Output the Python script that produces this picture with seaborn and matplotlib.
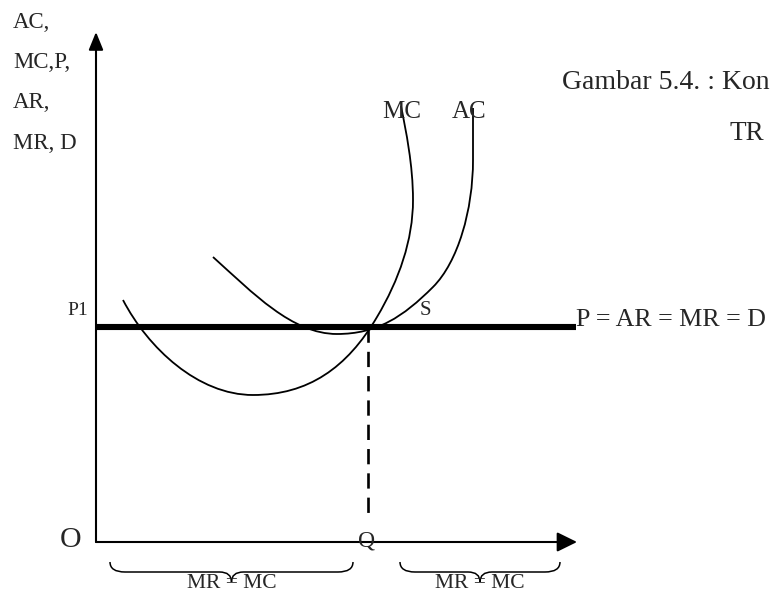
import numpy as np
import matplotlib
matplotlib.use("Agg")
import matplotlib.pyplot as plt
import seaborn as sns
import pandas as pd
from matplotlib.path import Path
from matplotlib.patches import PathPatch

# diagram units: origin O = (0, 0), quantity to the right, price upward
p1 = 215            # price level P1
q_star = 272        # output Q where MR = MC
price_end = 480     # right end of the P = AR = MR = D line
y_axis_top = 510
x_axis_end = 481
dash_bottom = 24

# MC curve (cubic bezier points: start, then ctrl, ctrl, end ...)
mc_x = [27, 52, 102, 157, 212, 251, 281, 303, 317, 317, 317, 310, 305]
mc_y = [242, 194, 147, 147, 147, 174, 225, 262, 302, 342, 377, 411, 436]

# AC curve (three cubic pieces then a straight top)
ac_x = [117, 157, 196, 241, 281, 307, 337, 362, 377, 377, 377]
ac_y = [285, 249, 208, 208, 208, 225, 255, 280, 332, 382, 434]

# braces under the quantity axis
brace_left = [14, 304]
brace_right = [257, 464]
brace_label = "MR = MC"

axis_labels = ["AC,", "MC,P,", "AR,", "MR, D"]
axis_label_y = [514, 474, 434, 393]

sns.set_theme(style="white")
plt.rcParams["font.family"] = ["Liberation Serif", "DejaVu Serif"]
plt.rcParams["lines.scale_dashes"] = False

fig = plt.figure(figsize=(7.74, 5.94), dpi=100)
ax = fig.add_axes([0, 0, 1, 1])
ax.set_xlim(-96, 678)
ax.set_ylim(-52, 542)
ax.axis("off")

# axes with arrow heads
ax.annotate("", xy=(0, y_axis_top), xytext=(0, 0),
            arrowprops=dict(arrowstyle="-|>,head_length=0.54,head_width=0.22",
                            mutation_scale=20, lw=1.5, color="black",
                            shrinkA=0, shrinkB=0))
ax.annotate("", xy=(x_axis_end, 0), xytext=(0, 0),
            arrowprops=dict(arrowstyle="-|>,head_length=0.61,head_width=0.3",
                            mutation_scale=20, lw=1.5, color="black",
                            shrinkA=0, shrinkB=0))

# price line and dashed drop to Q
price_df = pd.DataFrame({"q": [0, price_end], "p": [p1, p1]})
sns.lineplot(data=price_df, x="q", y="p", ax=ax, color="black",
             linewidth=4.4, estimator=None, sort=False, solid_capstyle="butt")
drop_df = pd.DataFrame({"q": [q_star, q_star], "p": [p1, dash_bottom]})
sns.lineplot(data=drop_df, x="q", y="p", ax=ax, color="black",
             linewidth=1.9, estimator=None, sort=False,
             linestyle=(0, (11, 6.5)))

# cost curves
mc_codes = [Path.MOVETO] + [Path.CURVE4] * (len(mc_x) - 1)
ax.add_patch(PathPatch(Path(np.column_stack([mc_x, mc_y]), mc_codes),
                       fill=False, lw=1.3, color="black"))
ac_codes = [Path.MOVETO] + [Path.CURVE4] * 9 + [Path.LINETO]
ax.add_patch(PathPatch(Path(np.column_stack([ac_x, ac_y]), ac_codes),
                       fill=False, lw=1.3, color="black"))

# braces
for x0, x1 in zip(brace_left, brace_right):
    xc = (x0 + x1) / 2
    verts = [(x0, -20), (x0, -30), (x0 + 15, -30), (xc - 12, -30),
             (xc, -30), (xc, -40), (xc, -30), (xc + 12, -30),
             (x1 - 15, -30), (x1, -30), (x1, -20)]
    codes = [Path.MOVETO, Path.CURVE3, Path.CURVE3, Path.LINETO,
             Path.CURVE3, Path.CURVE3, Path.CURVE3, Path.CURVE3,
             Path.LINETO, Path.CURVE3, Path.CURVE3]
    ax.add_patch(PathPatch(Path(verts, codes), fill=False, lw=1.1, color="black"))
    ax.text(xc, -46, brace_label, ha="center", va="baseline", fontsize=15.5)

# labels
for lab, y in zip(axis_labels, axis_label_y):
    ax.text(-83, y, lab, ha="left", va="baseline", fontsize=16.5)
ax.text(-29, 227, "P1", ha="left", va="baseline", fontsize=14)
ax.text(286, 424, "MC", ha="left", va="baseline", fontsize=18)
ax.text(356, 424, "AC", ha="left", va="baseline", fontsize=18)
ax.text(324, 227, "S", ha="left", va="baseline", fontsize=15)
ax.text(480, 216, "P = AR = MR = D", ha="left", va="baseline", fontsize=18.7)
ax.text(-36, -5, "O", ha="left", va="baseline", fontsize=21.5)
ax.text(262, -4, "Q", ha="left", va="baseline", fontsize=17)
# caption runs past the right edge, as in the source page
ax.text(466, 453, "Gambar 5.4. : Kon", ha="left", va="baseline", fontsize=20)
ax.text(634, 402, "TR", ha="left", va="baseline", fontsize=19.5)

fig.savefig("out.png", dpi=100)
